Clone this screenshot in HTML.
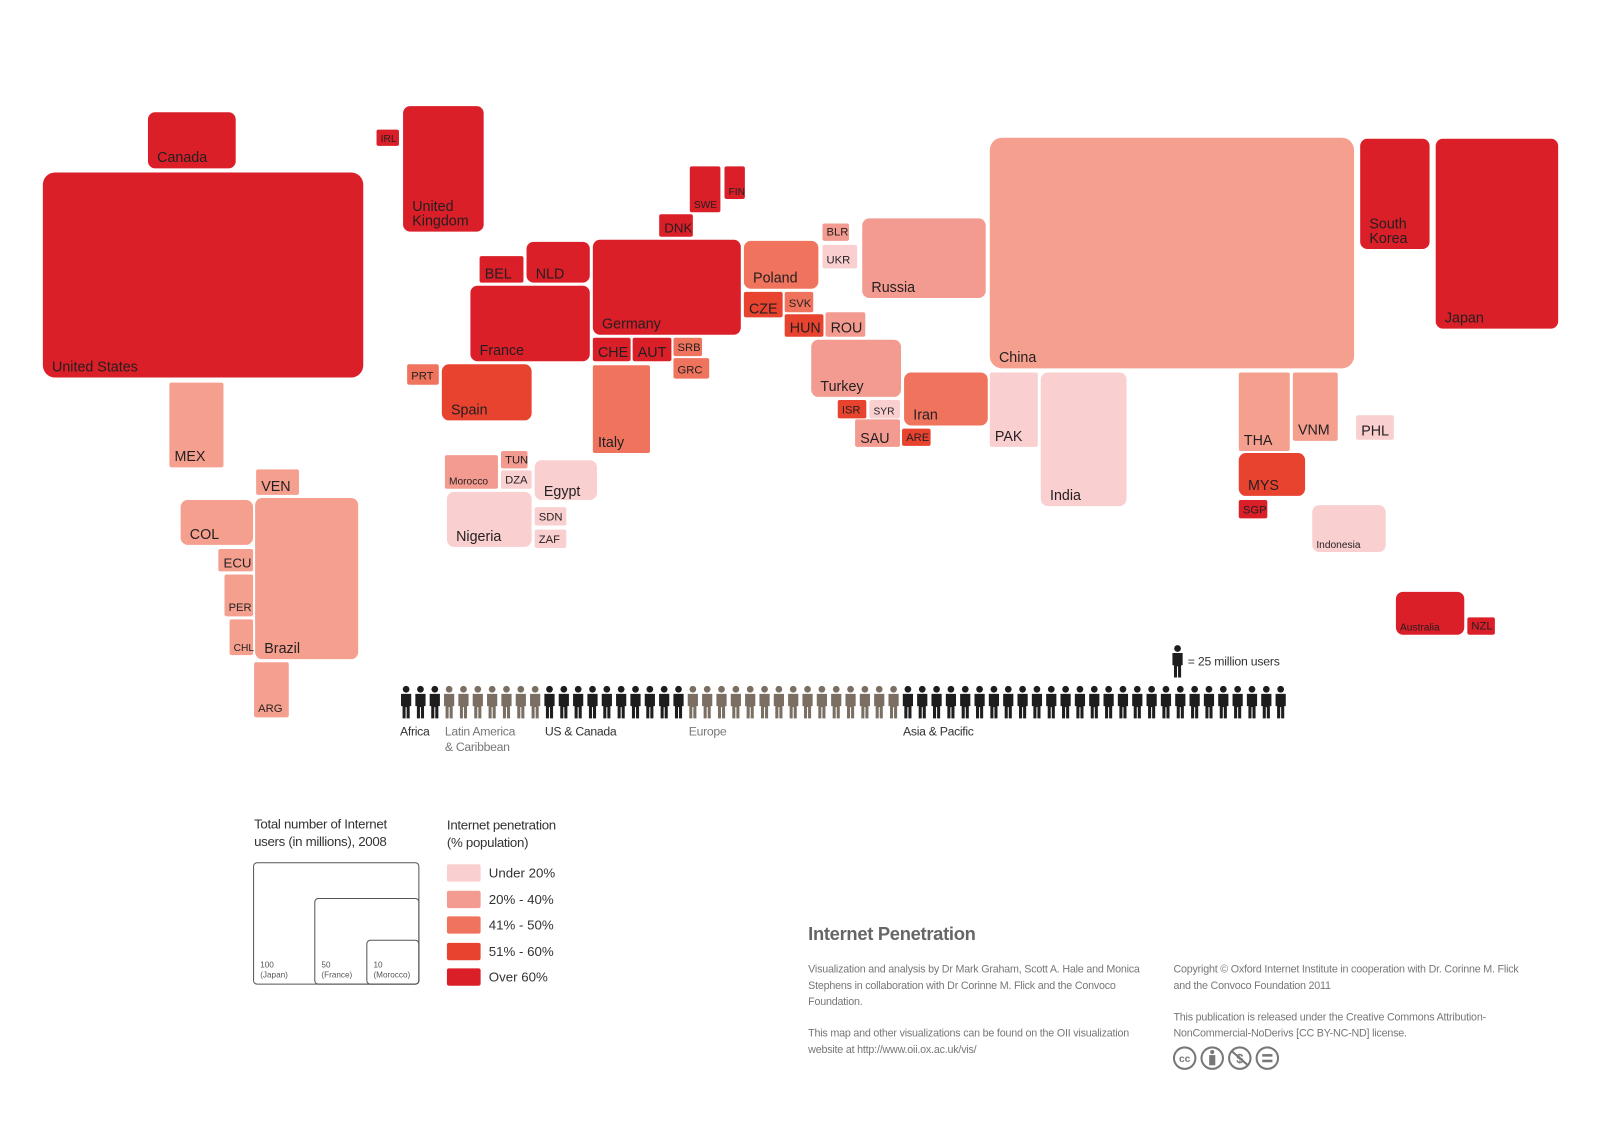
<!DOCTYPE html>
<html><head><meta charset="utf-8">
<style>
html,body{margin:0;padding:0;background:#fff;width:1600px;height:1132px;overflow:hidden;font-family:"Liberation Sans",sans-serif;}
#w{position:absolute;left:0;top:0;width:1568px;height:1109px;transform:scale(1.0204);transform-origin:0 0;}
.r{position:absolute;box-sizing:border-box;color:#231f20;}
.r span{position:absolute;left:6px;bottom:3px;line-height:1.05;white-space:nowrap;}
.t{position:absolute;color:#333;white-space:nowrap;}
.s{font-size:10.5px;color:#777;line-height:16px;letter-spacing:-0.2px;position:absolute;}
</style></head><body>
<div id="w">
<div id="map"></div>
<svg id="ppl" style="position:absolute;left:0;top:0" width="1568" height="760"></svg>
<div class="t" style="left:1164px;top:641px;font-size:12px;color:#333;letter-spacing:-0.2px">= 25 million users</div>
<div class="t" style="left:392px;top:710px;font-size:12px;letter-spacing:-0.3px">Africa</div>
<div class="t" style="left:436px;top:710px;font-size:12px;color:#777;line-height:15px;letter-spacing:-0.3px">Latin America<br>&amp; Caribbean</div>
<div class="t" style="left:534px;top:710px;font-size:12px;letter-spacing:-0.3px">US &amp; Canada</div>
<div class="t" style="left:675px;top:710px;font-size:12px;color:#777;letter-spacing:-0.3px">Europe</div>
<div class="t" style="left:885px;top:710px;font-size:12px;letter-spacing:-0.3px">Asia &amp; Pacific</div>

<div class="t" style="left:249px;top:799px;font-size:13px;line-height:17px;letter-spacing:-0.3px">Total number of Internet<br>users (in millions), 2008</div>
<div style="position:absolute;left:248px;top:845px;width:163px;height:120px;border:1px solid #555;border-radius:4px;box-sizing:border-box"></div>
<div style="position:absolute;left:308px;top:880px;width:103px;height:85px;border:1px solid #555;border-radius:4px;box-sizing:border-box"></div>
<div style="position:absolute;left:359px;top:921px;width:52px;height:44px;border:1px solid #555;border-radius:4px;box-sizing:border-box"></div>
<div class="t" style="left:255px;top:941px;font-size:8px;line-height:10px;color:#555">100<br>(Japan)</div>
<div class="t" style="left:315px;top:941px;font-size:8px;line-height:10px;color:#555">50<br>(France)</div>
<div class="t" style="left:366px;top:941px;font-size:8px;line-height:10px;color:#555">10<br>(Morocco)</div>

<div class="t" style="left:438px;top:800px;font-size:13px;line-height:17px;letter-spacing:-0.3px">Internet penetration<br>(% population)</div>
<div id="leg"></div>

<div class="t" style="left:792px;top:905px;font-size:18px;font-weight:bold;color:#666;letter-spacing:-0.3px">Internet Penetration</div>
<div class="s" style="left:792px;top:942px;width:340px">Visualization and analysis by Dr Mark Graham, Scott A. Hale and Monica Stephens in collaboration with Dr Corinne M. Flick and the Convoco Foundation.</div>
<div class="s" style="left:792px;top:1005px;width:340px">This map and other visualizations can be found on the OII visualization website at http://www.oii.ox.ac.uk/vis/</div>
<div class="s" style="left:1150px;top:942px;width:340px">Copyright © Oxford Internet Institute in cooperation with Dr. Corinne M. Flick and the Convoco Foundation 2011</div>
<div class="s" style="left:1150px;top:989px;width:340px">This publication is released under the Creative Commons Attribution-NonCommercial-NoDerivs [CC BY-NC-ND] license.</div>
<svg style="position:absolute;left:1149px;top:1024px" width="110" height="26">
<g fill="none" stroke="#777" stroke-width="2">
<circle cx="12" cy="13" r="10.5"/><circle cx="39" cy="13" r="10.5"/><circle cx="66" cy="13" r="10.5"/><circle cx="93" cy="13" r="10.5"/>
</g>
<text x="12" y="17" font-size="10" font-weight="bold" text-anchor="middle" fill="#777" font-family="Liberation Sans">cc</text>
<circle cx="39" cy="7" r="2" fill="#777"/><rect x="36" y="10" width="6" height="10" fill="#777"/>
<text x="66" y="18" font-size="13" font-weight="bold" text-anchor="middle" fill="#777" font-family="Liberation Sans">$</text>
<line x1="58" y1="6" x2="74" y2="20" stroke="#777" stroke-width="2"/>
<rect x="88" y="9" width="10" height="2.5" fill="#777"/><rect x="88" y="14.5" width="10" height="2.5" fill="#777"/>
</svg>
</div>
<script>
var C={d:"#da1f28",o:"#e8432f",s:"#ef735d",p:"#f39b90",c:"#f5a08f",l:"#f9cfcf"};
var R=[
["Canada",145,110,86,55,"d",14],["United States",42,169,314,201,"d",14,12],["IRL",369,127,22,16,"d",10],
["United<br>Kingdom",395,104,79,123,"d",14],["SWE",676,163,30,45,"d",10],["FIN",710,163,20,32,"d",10],
["DNK",646,210,33,22,"d",13],["BEL",470,251,43,26,"d",14],["NLD",516,237,62,40,"d",14],
["Germany",581,235,145,93,"d",14],["France",461,280,117,74,"d",14],["CHE",581,331,37,23,"d",14],
["AUT",620,331,38,23,"d",14],["SRB",660,331,28,18,"s",11],["GRC",660,351,35,20,"s",11],
["PRT",399,357,31,20,"s",11],["Spain",433,357,88,55,"o",14],["Italy",581,358,56,86,"s",14],
["Poland",729,236,73,47,"s",14],["BLR",806,219,26,17,"p",11],["UKR",806,240,34,23,"l",11],
["Russia",845,214,121,78,"p",14],["CZE",729,286,38,25,"o",14],["SVK",769,286,28,20,"s",11],
["HUN",769,308,38,22,"o",14],["ROU",809,306,39,24,"p",14],["Turkey",795,333,88,56,"p",14],
["ISR",821,392,28,18,"o",11],["SYR",852,392,30,18,"l",10],["SAU",838,411,44,27,"p",14],
["Iran",886,365,82,52,"s",14],["ARE",884,420,28,17,"o",11],
["MEX",166,375,53,83,"c",14],["VEN",251,460,42,25,"c",14],["COL",177,490,71,44,"c",14],
["Brazil",250,488,101,158,"c",14],["ECU",214,538,34,22,"c",13],["PER",220,563,28,41,"c",11],
["CHL",225,607,23,35,"c",10],["ARG",249,649,34,54,"c",11],
["Morocco",436,446,52,33,"p",10],["TUN",491,442,26,17,"p",11],["DZA",491,461,30,18,"l",11],
["Egypt",524,451,61,39,"l",14],["Nigeria",438,482,83,54,"l",14],["SDN",524,497,31,18,"l",11],
["ZAF",524,519,31,18,"l",11],
["China",970,135,357,226,"c",14,12],["South<br>Korea",1333,136,68,108,"d",14],["Japan",1407,136,120,186,"d",14],
["PAK",970,365,47,73,"l",14],["India",1020,365,84,131,"l",14],["THA",1214,365,50,77,"c",14],
["VNM",1267,365,44,67,"c",14],["PHL",1329,407,37,24,"l",14],["MYS",1214,444,65,42,"o",14],
["SGP",1214,490,28,18,"d",11],["Indonesia",1286,495,72,46,"l",10],["Australia",1368,580,67,42,"d",10],
["NZL",1438,605,27,17,"d",11]];
var h="";
R.forEach(function(a){var rad=a[7]||(a[3]>60?7:2);
h+='<div class="r" style="left:'+a[1]+'px;top:'+a[2]+'px;width:'+a[3]+'px;height:'+a[4]+'px;background:'+C[a[5]]+';border-radius:'+rad+'px;font-size:'+a[6]+'px"><span style="left:'+(a[6]>12?(a[3]>60?9:5):4)+'px;bottom:'+(a[6]>12&&a[4]>40?3:1)+'px">'+a[0]+'</span></div>';});
document.getElementById("map").innerHTML=h;
var L=[["Under 20%","l"],["20% - 40%","p"],["41% - 50%","s"],["51% - 60%","o"],["Over 60%","d"]],g="";
L.forEach(function(a,i){var y=847+i*25.6;g+='<div style="position:absolute;left:438px;top:'+y+'px;width:33px;height:17px;border-radius:2px;background:'+C[a[1]]+'"></div><div class="t" style="left:479px;top:'+(y+1)+'px;font-size:13px">'+a[0]+'</div>';});
document.getElementById("leg").innerHTML=g;
function P(x,y,c){return '<g fill="'+c+'"><circle cx="'+(x+6)+'" cy="'+(y+3.5)+'" r="3.3"/><path d="M'+(x+1)+' '+(y+8)+'h10v12h-1.5v12h-3v-11h-1v11h-3v-12h-1.5z"/></g>';}
var s="",cols=[[3,"#1d1d1d"],[7,"#7b6f63"],[10,"#1d1d1d"],[15,"#7b6f63"],[27,"#1d1d1d"]],x=392;
cols.forEach(function(c){for(var i=0;i<c[0];i++){s+=P(x,672,c[1]);x+=14.05;}});
s+=P(1148,632,"#1d1d1d");
document.getElementById("ppl").innerHTML=s;
</script>
</body></html>
